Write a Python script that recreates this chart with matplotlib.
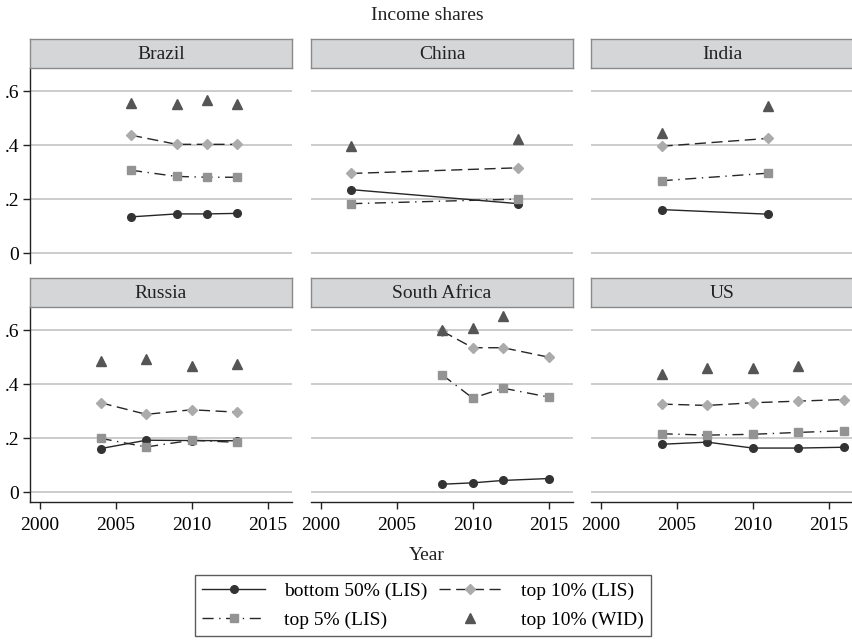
import numpy as np
import matplotlib
matplotlib.use("Agg")
import matplotlib.pyplot as plt
from matplotlib.lines import Line2D

plt.rcParams["font.family"] = ["Liberation Serif", "DejaVu Serif"]

COUNTRIES = ["Brazil", "China", "India", "Russia", "South Africa", "US"]

# survey years per country (LIS)
YEARS = {
    "Brazil": [2006, 2009, 2011, 2013],
    "China": [2002, 2013],
    "India": [2004, 2011],
    "Russia": [2004, 2007, 2010, 2013],
    "South Africa": [2008, 2010, 2012, 2015],
    "US": [2004, 2007, 2010, 2013, 2016],
}

BOTTOM50_LIS = {
    "Brazil": [0.135, 0.146, 0.146, 0.148],
    "China": [0.236, 0.184],
    "India": [0.162, 0.145],
    "Russia": [0.162, 0.193, 0.192, 0.191],
    "South Africa": [0.030, 0.035, 0.044, 0.051],
    "US": [0.178, 0.186, 0.164, 0.164, 0.167],
}

TOP5_LIS = {
    "Brazil": [0.308, 0.285, 0.282, 0.282],
    "China": [0.184, 0.201],
    "India": [0.269, 0.297],
    "Russia": [0.200, 0.168, 0.193, 0.185],
    "South Africa": [0.435, 0.349, 0.386, 0.353],
    "US": [0.217, 0.212, 0.215, 0.222, 0.228],
}

TOP10_LIS = {
    "Brazil": [0.438, 0.404, 0.404, 0.404],
    "China": [0.296, 0.317],
    "India": [0.397, 0.426],
    "Russia": [0.332, 0.289, 0.306, 0.297],
    "South Africa": [0.597, 0.536, 0.536, 0.501],
    "US": [0.327, 0.322, 0.332, 0.338, 0.344],
}

# WID estimates; nan where no value is reported
TOP10_WID = {
    "Brazil": [0.557, 0.552, 0.567, 0.552],
    "China": [0.397, 0.424],
    "India": [0.447, 0.545],
    "Russia": [0.486, 0.495, 0.470, 0.474],
    "South Africa": [0.600, 0.610, 0.653, np.nan],
    "US": [0.440, 0.461, 0.461, 0.468, np.nan],
}

LINE = "#262626"
STYLES = {
    "b50": dict(color=LINE, lw=1.0, ls="-", marker="o", ms=5.5,
                mfc="#333333", mec="#333333"),
    "t10": dict(color=LINE, lw=1.0, ls=(0, (8, 4)), marker="D", ms=5.5,
                mfc="#ababab", mec="#ababab"),
    "t5": dict(color=LINE, lw=1.0, ls=(0, (8, 4, 1, 4)), marker="s", ms=5.5,
               mfc="#939393", mec="#939393"),
    "wid": dict(color="none", lw=0, ls="none", marker="^", ms=6.5,
                mfc="#555555", mec="#555555"),
}

FS = 14
W, H = 853, 640
fig = plt.figure(figsize=(W / 100, H / 100), dpi=100)

col_left = [30, 311, 591]
col_w = 262
row_top = [68, 307]        # top of plot area (px)
plot_h = 195
head_h = 29


def px_box(x0, y0, w, h):
    return [x0 / W, 1 - (y0 + h) / H, w / W, h / H]


for i, name in enumerate(COUNTRIES):
    r, c = divmod(i, 3)
    ax = fig.add_axes(px_box(col_left[c], row_top[r], col_w, plot_h))
    yrs = YEARS[name]
    ax.plot(yrs, BOTTOM50_LIS[name], **STYLES["b50"], zorder=3)
    ax.plot(yrs, TOP10_LIS[name], **STYLES["t10"], zorder=3)
    ax.plot(yrs, TOP5_LIS[name], **STYLES["t5"], zorder=3)
    ax.plot(yrs, TOP10_WID[name], **STYLES["wid"], zorder=3)

    ax.set_xlim(1999.35, 2016.6)
    ax.set_ylim(-0.036, 0.687)
    ax.set_yticks([0, 0.2, 0.4, 0.6])
    ax.set_xticks([2000, 2005, 2010, 2015])
    ax.grid(axis="y", color="#c8c8c8", lw=1.3)
    ax.set_axisbelow(True)
    for s in ["top", "right"]:
        ax.spines[s].set_visible(False)
    ax.spines["left"].set_visible(c == 0)
    ax.spines["bottom"].set_visible(r == 1)
    for s in ["left", "bottom"]:
        ax.spines[s].set_color("#222222")
        ax.spines[s].set_linewidth(1.0)
    ax.tick_params(axis="y", length=5 if c == 0 else 0, width=1.0,
                   color="#222222", labelsize=FS, pad=3, labelleft=(c == 0))
    ax.tick_params(axis="x", length=5 if r == 1 else 0, width=1.0,
                   color="#222222", labelsize=FS, pad=6, labelbottom=(r == 1))
    ax.set_yticklabels(["0", ".2", ".4", ".6"])

    # strip header
    hx = fig.add_axes(px_box(col_left[c], row_top[r] - head_h, col_w, head_h))
    hx.set_facecolor("#d5d6d8")
    hx.set_xticks([])
    hx.set_yticks([])
    for s in hx.spines.values():
        s.set_color("#8a8a8a")
        s.set_linewidth(1.0)
    hx.text(0.5, 0.47, name, ha="center", va="center", fontsize=FS,
            color="#222222", transform=hx.transAxes)

fig.text(427 / W, 1 - 15 / H, "Income shares", ha="center", va="center",
         fontsize=FS, color="#222222")
fig.text(427 / W, 1 - 556 / H, "Year", ha="center", va="center",
         fontsize=FS, color="#222222")

handles = [
    Line2D([], [], **STYLES["b50"]),
    Line2D([], [], **STYLES["t5"]),
    Line2D([], [], **STYLES["t10"]),
    Line2D([], [], **STYLES["wid"]),
]
labels = ["bottom 50% (LIS)", "top 5% (LIS)", "top 10% (LIS)", "top 10% (WID)"]
leg = fig.legend(handles, labels, ncol=2, loc="center",
                 bbox_to_anchor=(423 / W, 1 - 605.5 / H), fontsize=FS,
                 frameon=True, fancybox=False, edgecolor="#333333",
                 handlelength=3.2, handletextpad=1.0, columnspacing=0.6,
                 labelspacing=0.6, borderpad=0.38, numpoints=1)
leg.get_frame().set_linewidth(1.0)

fig.savefig("out.png", dpi=100)
